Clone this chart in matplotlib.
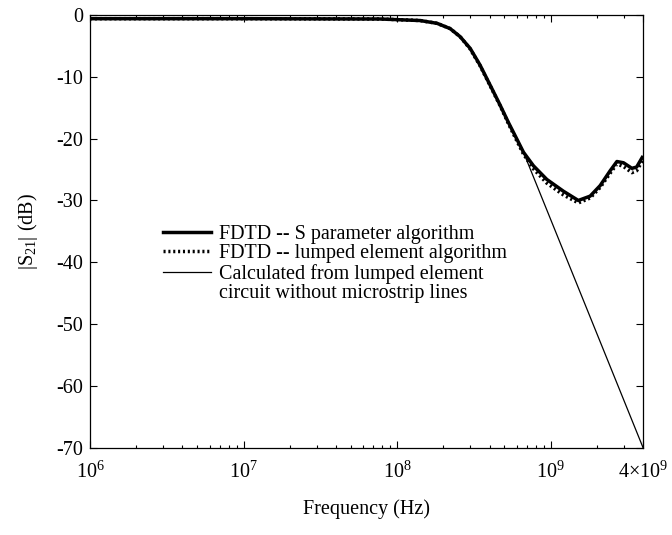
import matplotlib
matplotlib.use("Agg")
import matplotlib.pyplot as plt
from matplotlib.lines import Line2D
from matplotlib.ticker import FixedLocator, LogLocator, NullFormatter

plt.rcParams['font.family'] = ['Liberation Serif', 'DejaVu Serif']
plt.rcParams['mathtext.fontset'] = 'custom'
plt.rcParams['mathtext.rm'] = 'Liberation Serif'
plt.rcParams['mathtext.it'] = 'Liberation Serif:italic'
plt.rcParams['axes.unicode_minus'] = False

# frequencies (Hz)
freq = [1e6, 1e7, 7.76e7, 1.413e8, 1.82e8, 2.213e8, 2.57e8, 2.99e8, 3.467e8,
        4.14e8, 4.69e8, 5.31e8, 6.03e8, 6.65e8, 7.73e8, 9.44e8, 1.21e9,
        1.514e9, 1.807e9, 2.10e9, 2.44e9, 2.70e9, 2.98e9, 3.38e9, 3.63e9, 4.0e9]

# FDTD -- S parameter algorithm
s21_sparam = [-0.6, -0.6, -0.65, -0.9, -1.35, -2.2, -3.5, -5.4, -8.1,
              -11.9, -14.6, -17.4, -20.1, -22.2, -24.4, -26.6, -28.5,
              -30.0, -29.3, -27.6, -25.2, -23.7, -23.9, -24.8, -24.6, -22.8]

# FDTD -- lumped element algorithm
s21_lumped = [-0.6, -0.6, -0.65, -0.9, -1.35, -2.2, -3.5, -5.5, -8.2,
              -12.0, -14.7, -17.6, -20.4, -22.5, -24.9, -27.2, -29.1,
              -30.4, -29.6, -27.9, -25.6, -24.1, -24.5, -25.5, -25.2, -23.4]

# calculated from lumped element circuit (no microstrip lines)
freq_calc = [1e6, 1e7, 7.76e7, 1.413e8, 1.82e8, 2.213e8, 2.57e8, 2.99e8,
             3.467e8, 4.14e8, 4.69e8, 5.31e8, 6.03e8, 6.65e8, 4.0e9]
s21_calc = [-0.6, -0.6, -0.65, -0.9, -1.35, -2.2, -3.5, -5.4, -8.1,
            -11.9, -14.6, -17.4, -20.1, -22.2, -70.0]

xtick_vals = [1e6, 1e7, 1e8, 1e9, 4e9]
xtick_labels = ['$10^6$', '$10^7$', '$10^8$', '$10^9$', r'$4{\times}10^9$']
ytick_vals = [0, -10, -20, -30, -40, -50, -60, -70]

fig = plt.figure(figsize=(6.72, 5.35), dpi=100)
ax = fig.add_axes([0.134, 0.163, 0.823, 0.809])

ax.plot(freq_calc, s21_calc, color='black', lw=0.9)
ax.plot(freq, s21_sparam, color='black', lw=2.5, solid_capstyle='butt')
ax.plot(freq, s21_lumped, color='black', lw=2.5, linestyle=(0, (0.6, 0.8)))

ax.set_xscale('log')
ax.set_xlim(1e6, 4e9)
ax.set_ylim(-70, 0)
ax.xaxis.set_major_locator(FixedLocator(xtick_vals))
ax.set_xticklabels(xtick_labels)
ax.xaxis.set_minor_locator(LogLocator(base=10, subs=range(2, 10)))
ax.xaxis.set_minor_formatter(NullFormatter())
ax.set_yticks(ytick_vals)
ax.set_yticklabels([str(v) for v in ytick_vals])

ax.tick_params(which='both', direction='in', top=True, right=True,
               labelsize=14.5, width=0.8)
ax.tick_params(which='major', length=5)
ax.tick_params(which='minor', length=2.5)
ax.tick_params(axis='x', pad=10)
ax.tick_params(axis='y', pad=5)
for sp in ax.spines.values():
    sp.set_linewidth(0.9)

ax.set_xlabel('Frequency (Hz)', fontsize=14.5, labelpad=12)
ax.set_ylabel('|S$_{21}$| (dB)', fontsize=14.5, labelpad=12)

handles = [
    Line2D([], [], color='black', lw=2.5),
    Line2D([], [], color='black', lw=2.5, linestyle=(0, (0.6, 0.8))),
    Line2D([], [], color='black', lw=0.9),
    Line2D([], [], color='none'),
]
labels = ['FDTD -- S parameter algorithm',
          'FDTD -- lumped element algorithm',
          'Calculated from lumped element',
          'circuit without microstrip lines']
ax.legend(handles, labels, loc='upper left', bbox_to_anchor=(0.132, 0.515),
          frameon=False, fontsize=14.5, handlelength=2.4, handletextpad=0.4,
          labelspacing=0.02, borderpad=0, borderaxespad=0)

fig.savefig('out.png', dpi=100)
